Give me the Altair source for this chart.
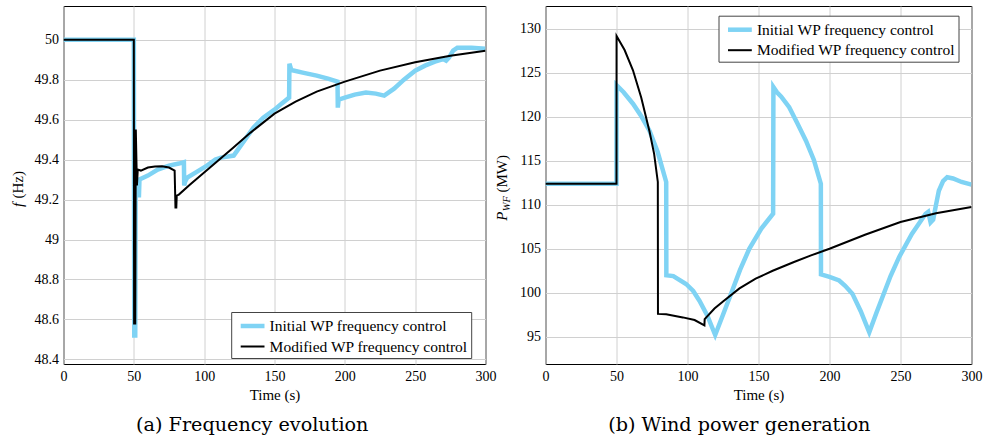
import altair as alt
import pandas as pd

SERIES = ["Initial WP frequency control", "Modified WP frequency control"]
COLORS = ["#7fd3f4", "#000000"]
WIDTHS = [4.5, 2.0]

# (a) frequency, initial control
freq_init_t = [0, 50, 50.3, 51.0, 51.3, 53.4, 53.6, 54.0, 60, 67, 75, 82, 85.6, 85.8, 86.5, 88,
               95, 102, 108, 112, 121, 128, 135, 142, 150, 155, 160.4, 160.6, 162, 170, 180, 188,
               194.8, 195.0, 195.6, 200, 207, 215, 222, 228, 235, 242, 250, 257, 264, 270, 272,
               274, 277, 280, 290, 300]
freq_init_v = [50, 50, 48.52, 48.52, 49.28, 49.28, 49.21, 49.30, 49.32, 49.35, 49.37, 49.38, 49.387,
               49.27, 49.29, 49.31, 49.34, 49.37, 49.40, 49.41, 49.42, 49.49, 49.56, 49.61, 49.65,
               49.68, 49.71, 49.88, 49.848, 49.835, 49.82, 49.805, 49.79, 49.66, 49.70, 49.71,
               49.725, 49.735, 49.73, 49.72, 49.755, 49.80, 49.845, 49.87, 49.89, 49.903, 49.895,
               49.91, 49.945, 49.96, 49.96, 49.955]

# (a) frequency, modified control
freq_mod_t = [0, 50, 50.2, 51.0, 51.4, 52.2, 52.8, 55, 60, 65, 70, 75, 79, 79.6, 80.2, 80.5, 82,
              90, 100, 110, 120, 133, 150, 165, 180, 200, 225, 250, 275, 300]
freq_mod_v = [50, 50, 48.58, 48.58, 49.55, 49.27, 49.35, 49.345, 49.36, 49.365, 49.367, 49.36,
              49.345, 49.16, 49.16, 49.22, 49.225, 49.275, 49.335, 49.395, 49.455, 49.535, 49.63,
              49.69, 49.74, 49.79, 49.845, 49.887, 49.92, 49.945]

# (b) wind power, initial control
pow_init_t = [0, 50, 50.05, 55, 61.6, 67, 73.3, 79, 85, 85.1, 90, 99, 104, 108.4, 114, 119.5, 125,
              130, 137, 143.5, 152, 160.3, 160.5, 163, 166, 171.6, 177, 183.4, 189, 193.9, 194.0,
              200, 206.8, 211, 216.1, 222, 228, 233, 238, 243, 249, 258, 264, 267.7, 269.5, 271.2,
              273, 275, 277, 280, 282.9, 287, 293, 300]
pow_init_v = [112.4, 112.4, 123.6, 122.8, 121.5, 120.2, 118.4, 116.0, 112.6, 102.0, 101.9, 101.0,
              100.2, 99.1, 97.4, 95.2, 97.5, 99.6, 102.6, 105.0, 107.3, 109.0, 123.4, 122.8, 122.3,
              121.1, 119.4, 117.3, 115.1, 112.4, 102.1, 101.8, 101.4, 100.8, 99.9, 97.9, 95.5,
              97.7, 99.8, 101.9, 104.05, 106.7, 108.1, 108.98, 109.2, 108.0, 108.3, 110.0, 111.6,
              112.7, 113.14, 113.0, 112.6, 112.3]

# (b) wind power, modified control
pow_mod_t = [0, 50, 50.05, 55.7, 61.6, 67.4, 73.3, 76.5, 79.1, 79.2, 85, 96.7, 105, 111.9, 112.1,
             119, 125, 136.6, 148, 160, 175, 187, 200, 225, 250, 275, 300]
pow_mod_v = [112.4, 112.4, 129.2, 127.6, 125.3, 122.2, 118.3, 115.8, 112.6, 97.6, 97.55, 97.2,
             96.9, 96.3, 97.0, 98.2, 99.0, 100.5, 101.6, 102.5, 103.5, 104.25, 105.0, 106.6,
             108.05, 109.05, 109.75]

x_ticks = [0, 50, 100, 150, 200, 250, 300]
f_ticks = [48.4, 48.6, 48.8, 49.0, 49.2, 49.4, 49.6, 49.8, 50.0]
p_ticks = [95, 100, 105, 110, 115, 120, 125, 130]

FONT = "Liberation Serif, Tinos, Times New Roman, Times, serif"
CAPTION_FONT = "DejaVu Serif"


def frame(ts, vs, name):
    return pd.DataFrame({"t": ts, "v": vs, "series": name, "i": list(range(len(ts)))})


def label(text, x, y, size=15, italic=False):
    return alt.Chart(pd.DataFrame({"k": [0]})).mark_text(
        text=text, font=FONT, fontSize=size, fontStyle="italic" if italic else "normal",
        angle=270, align="left", baseline="alphabetic", color="black"
    ).encode(x=alt.value(x), y=alt.value(y))


def panel(df, ydom, yvals, yfmt, lx, ly, caption, cap_dx, labels, w, h):
    legend = alt.Legend(
        title=None, orient="none", legendX=lx, legendY=ly,
        symbolType="M-1.4,0H1.4", symbolSize=289, symbolOffset=7.4,
        labelFont=FONT, labelFontSize=15.5, labelColor="black", labelLimit=400,
        labelOffset=6, strokeColor="#444444", fillColor="white", padding=3,
        rowPadding=2, cornerRadius=0,
    )
    color = alt.Color("series:N", scale=alt.Scale(domain=SERIES, range=COLORS), legend=legend)
    sw = alt.StrokeWidth("series:N", scale=alt.Scale(type="ordinal", domain=SERIES, range=WIDTHS),
                         legend=legend)
    x = alt.X("t:Q", scale=alt.Scale(domain=[0, 300], nice=False),
              axis=alt.Axis(values=x_ticks, title="Time (s)", format="d", labelFlush=False))
    y = alt.Y("v:Q", scale=alt.Scale(domain=ydom, nice=False, zero=False),
              axis=alt.Axis(values=yvals, title=None, format=yfmt, labelFlush=False))
    layers = []
    for s in SERIES:
        layers.append(
            alt.Chart(df).mark_line(clip=True).encode(
                x=x, y=y, color=color, strokeWidth=sw, order="i:Q"
            ).transform_filter(alt.datum.series == s)
        )
    layers.extend(labels)
    return alt.layer(*layers).properties(
        width=w, height=h,
        title=alt.TitleParams(caption, orient="bottom", anchor="middle", frame="bounds",
                              font=CAPTION_FONT, fontSize=19.2, fontWeight="normal",
                              color="black", offset=14, dx=cap_dx),
    )


df_f = pd.concat([frame(freq_init_t, freq_init_v, SERIES[0]),
                  frame(freq_mod_t, freq_mod_v, SERIES[1])], ignore_index=True)
df_p = pd.concat([frame(pow_init_t, pow_init_v, SERIES[0]),
                  frame(pow_mod_t, pow_mod_v, SERIES[1])], ignore_index=True)

left = panel(df_f, [48.377, 50.1685], f_ticks, ".1~f", 167.7, 306,
             "(a) Frequency evolution", -1,
             [label("f", -41, 201, italic=True), label("(Hz)", -41, 192.5)], 422, 358)
right = panel(df_p, [91.9, 132.61], p_ticks, "d", 173, 9.7,
              "(b) Wind power generation", 1,
              [label("P", -39, 214.7, italic=True), label("WF", -35.5, 205.3, size=10.5, italic=True),
               label("(MW)", -39, 186.5)], 426, 358)

chart = alt.hconcat(left, right, spacing=60, bounds="flush").resolve_scale(
    color="independent", strokeWidth="independent"
).resolve_legend(
    color="independent", strokeWidth="independent"
).properties(
    padding={"left": 9.5, "top": 5, "right": 2, "bottom": 5}
).configure_view(
    stroke="black", strokeWidth=1
).configure_axis(
    labelFont=FONT, labelFontSize=14, labelColor="black", titleFont=FONT, titleFontSize=15,
    titleColor="black", titleFontWeight="normal", gridColor="#d0d0d0", gridWidth=1,
    domain=False, ticks=False, labelPadding=5, titlePadding=4, labelFlush=False,
)

chart.save("out.html", embed_options={"renderer": "svg", "actions": False})
